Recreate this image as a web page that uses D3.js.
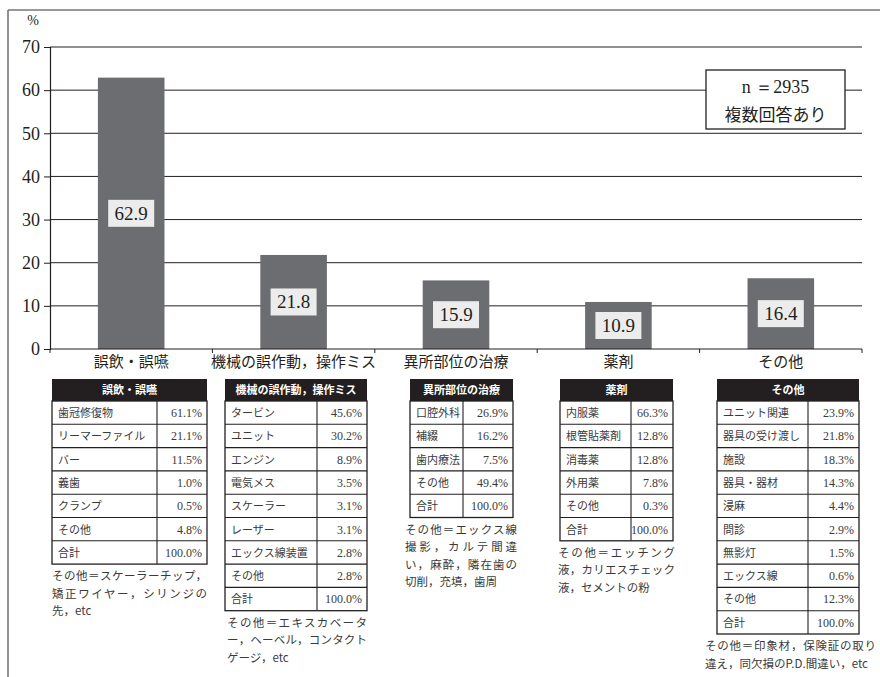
<!DOCTYPE html>
<html lang="ja">
<head>
<meta charset="utf-8">
<script src="https://cdn.jsdelivr.net/npm/d3@7"></script>
<style>
  html, body { margin: 0; padding: 0; background: #fff; }
  svg { display: block; }
  .jp { font-family: "Noto Sans CJK JP", "Noto Sans", sans-serif; }
  .num { font-family: "Liberation Serif", "DejaVu Serif", serif; }
</style>
</head>
<body>
<svg id="chart" width="880" height="677"></svg>
<script>
// ---- data ----
const categories = ["誤飲・誤嚥", "機械の誤作動，操作ミス", "異所部位の治療", "薬剤", "その他"];
const values = [62.9, 21.8, 15.9, 10.9, 16.4];
const yTicks = [0, 10, 20, 30, 40, 50, 60, 70];
const sampleNote = ["n ＝2935", "複数回答あり"];

// breakdown tables, one per category
const items1 = ["歯冠修復物", "リーマーファイル", "バー", "義歯", "クランプ", "その他", "合計"];
const shares1 = ["61.1%", "21.1%", "11.5%", "1.0%", "0.5%", "4.8%", "100.0%"];
const items2 = ["タービン", "ユニット", "エンジン", "電気メス", "スケーラー", "レーザー", "エックス線装置", "その他", "合計"];
const shares2 = ["45.6%", "30.2%", "8.9%", "3.5%", "3.1%", "3.1%", "2.8%", "2.8%", "100.0%"];
const items3 = ["口腔外科", "補綴", "歯内療法", "その他", "合計"];
const shares3 = ["26.9%", "16.2%", "7.5%", "49.4%", "100.0%"];
const items4 = ["内服薬", "根管貼薬剤", "消毒薬", "外用薬", "その他", "合計"];
const shares4 = ["66.3%", "12.8%", "12.8%", "7.8%", "0.3%", "100.0%"];
const items5 = ["ユニット関連", "器具の受け渡し", "施設", "器具・器材", "浸麻", "問診", "無影灯", "エックス線", "その他", "合計"];
const shares5 = ["23.9%", "21.8%", "18.3%", "14.3%", "4.4%", "2.9%", "1.5%", "0.6%", "12.3%", "100.0%"];

// notes under each table
const notes1 = ["その他＝スケーラーチップ，", "矯正ワイヤー，シリンジの", "先，etc"];
const notes2 = ["その他＝エキスカベータ", "ー，ヘーベル，コンタクト", "ゲージ，etc"];
const notes3 = ["その他＝エックス線", "撮影，カルテ間違", "い，麻酔，隣在歯の", "切削，充填，歯周"];
const notes4 = ["その他＝エッチング", "液，カリエスチェック", "液，セメントの粉"];
const notes5 = ["その他＝印象材，保険証の取り", "違え，同欠損のP.D.間違い，etc"];

const tables = [
  { items: items1, shares: shares1, notes: notes1 },
  { items: items2, shares: shares2, notes: notes2 },
  { items: items3, shares: shares3, notes: notes3 },
  { items: items4, shares: shares4, notes: notes4 },
  { items: items5, shares: shares5, notes: notes5 }
];

// ---- layout ----
const svg = d3.select("#chart");
const plot = { left: 50, right: 862, top: 47, bottom: 349 };
const ink = "#231f20";
const barColor = "#6c6d70";
const serif = '"Liberation Serif", "DejaVu Serif", serif';

// outer frame (top and left rules)
svg.append("line").attr("x1", 8).attr("x2", 880).attr("y1", 10).attr("y2", 10)
  .attr("stroke", "#777").attr("stroke-width", 1.6);
svg.append("line").attr("x1", 8).attr("x2", 8).attr("y1", 10).attr("y2", 677)
  .attr("stroke", "#777").attr("stroke-width", 1.6);

const x = d3.scaleBand().domain(categories).range([plot.left, plot.right])
  .paddingInner(0.59).paddingOuter(0.295);
const xb = d3.scaleBand().domain(categories).range([plot.left, plot.right]);
const y = d3.scaleLinear().domain([0, 70]).range([plot.bottom, plot.top]);

// gridlines
svg.append("g").selectAll("line").data(yTicks.filter(t => t > 0)).join("line")
  .attr("x1", plot.left).attr("x2", plot.right)
  .attr("y1", d => y(d)).attr("y2", d => y(d))
  .attr("stroke", ink).attr("stroke-width", 1);

// y axis
const yAxis = svg.append("g").attr("transform", `translate(${plot.left},0)`)
  .call(d3.axisLeft(y).tickValues(yTicks).tickSize(6).tickPadding(4));
yAxis.attr("font-family", serif);
yAxis.select(".domain").attr("stroke", ink).attr("stroke-width", 1.2);
yAxis.selectAll(".tick line").attr("stroke", ink);
yAxis.selectAll("text").style("font-family", serif).attr("font-size", 18).attr("fill", ink);

svg.append("text").style("font-family", serif).attr("x", 33).attr("y", 25)
  .attr("text-anchor", "middle").attr("font-size", 14).attr("fill", ink).text("%");

// bars
svg.append("g").selectAll("rect").data(values).join("rect")
  .attr("x", (d, i) => x(categories[i]))
  .attr("width", x.bandwidth())
  .attr("y", d => y(d))
  .attr("height", d => y(0) - y(d))
  .attr("fill", barColor);

// x axis with boundary ticks
svg.append("line").attr("x1", plot.left).attr("x2", plot.right)
  .attr("y1", plot.bottom).attr("y2", plot.bottom).attr("stroke", ink).attr("stroke-width", 1.2);
const bounds = categories.map(c => xb(c)).concat([plot.right]);
svg.append("g").selectAll("line").data(bounds).join("line")
  .attr("x1", d => d).attr("x2", d => d)
  .attr("y1", plot.bottom).attr("y2", plot.bottom + 4)
  .attr("stroke", ink);

// category labels
svg.append("g").selectAll("text").data(categories).join("text")
  .attr("class", "jp")
  .attr("x", d => x(d) + x.bandwidth() / 2)
  .attr("y", 367)
  .attr("text-anchor", "middle").attr("font-size", 15).attr("fill", ink)
  .text(d => d);

// value labels in the middle of each bar
const vl = svg.append("g").selectAll("g").data(values).join("g")
  .attr("transform", (d, i) => `translate(${x(categories[i]) + x.bandwidth() / 2},${(y(d) + y(0)) / 2})`);
vl.append("rect").attr("x", -23).attr("y", -13.5).attr("width", 46).attr("height", 27).attr("fill", "#ececec");
vl.append("text").style("font-family", serif).attr("y", 6.5).attr("text-anchor", "middle")
  .attr("font-size", 19).attr("fill", ink).text(d => d.toFixed(1));

// sample-size box
const nb = svg.append("g").attr("transform", "translate(706,70)");
nb.append("rect").attr("width", 139).attr("height", 59).attr("fill", "#fff")
  .attr("stroke", ink).attr("stroke-width", 1.3);
nb.append("text").style("font-family", serif).attr("x", 69.5).attr("y", 23).attr("text-anchor", "middle")
  .attr("font-size", 18).attr("fill", ink).text(sampleNote[0]);
nb.append("text").attr("class", "jp").attr("x", 69.5).attr("y", 51).attr("text-anchor", "middle")
  .attr("font-size", 17).attr("fill", ink).text(sampleNote[1]);

// breakdown tables
const tableGeom = [
  { left: 52, width: 155, col: 105, noteLeft: 52, noteWidth: 155 },
  { left: 225, width: 142, col: 92, noteLeft: 227, noteWidth: 140 },
  { left: 410, width: 103, col: 53, noteLeft: 405, noteWidth: 112 },
  { left: 560, width: 113, col: 71, noteLeft: 558, noteWidth: 117 },
  { left: 717, width: 142, col: 91, noteLeft: 705, noteWidth: 171 }
];
const headTop = 379, headH = 22, rowH = 23.3;

tables.forEach((t, i) => {
  const g = tableGeom[i];
  const tg = svg.append("g").attr("transform", `translate(${g.left},${headTop})`);
  const bodyH = rowH * t.items.length;
  tg.append("rect").attr("width", g.width).attr("height", headH).attr("fill", ink);
  tg.append("text").attr("class", "jp").attr("x", g.width / 2).attr("y", 15)
    .attr("text-anchor", "middle").attr("font-size", 11).attr("font-weight", 700)
    .attr("fill", "#fff").text(categories[i]);
  tg.append("rect").attr("y", headH).attr("width", g.width).attr("height", bodyH)
    .attr("fill", "#fff").attr("stroke", ink).attr("stroke-width", 1.3);
  tg.selectAll("line.row").data(t.items.slice(1)).join("line").attr("class", "row")
    .attr("x1", 0).attr("x2", g.width)
    .attr("y1", (d, k) => headH + rowH * (k + 1)).attr("y2", (d, k) => headH + rowH * (k + 1))
    .attr("stroke", ink).attr("stroke-width", 1.1);
  tg.append("line").attr("x1", g.col).attr("x2", g.col).attr("y1", headH).attr("y2", headH + bodyH)
    .attr("stroke", ink).attr("stroke-width", 1.1);
  tg.selectAll("text.item").data(t.items).join("text").attr("class", "item jp")
    .attr("x", 6).attr("y", (d, k) => headH + rowH * k + 16)
    .attr("font-size", 11).attr("fill", "#3a3a3a").text(d => d);
  tg.selectAll("text.share").data(t.shares).join("text").attr("class", "share")
    .style("font-family", serif)
    .attr("x", g.width - 5).attr("y", (d, k) => headH + rowH * k + 16)
    .attr("text-anchor", "end").attr("font-size", 12).attr("fill", "#3a3a3a").text(d => d);

  // note lines; all but the last are justified to the note width
  const noteTop = headTop + headH + bodyH + 16;
  svg.append("g").selectAll("text").data(t.notes).join("text").attr("class", "jp")
    .attr("x", g.noteLeft).attr("y", (d, k) => noteTop + k * 17.5)
    .attr("font-size", 11.5).attr("fill", "#3a3a3a")
    .each(function (d, k) {
      if (k < t.notes.length - 1) {
        d3.select(this).attr("textLength", g.noteWidth).attr("lengthAdjust", "spacing");
      }
    })
    .text(d => d);
});
</script>
</body>
</html>
